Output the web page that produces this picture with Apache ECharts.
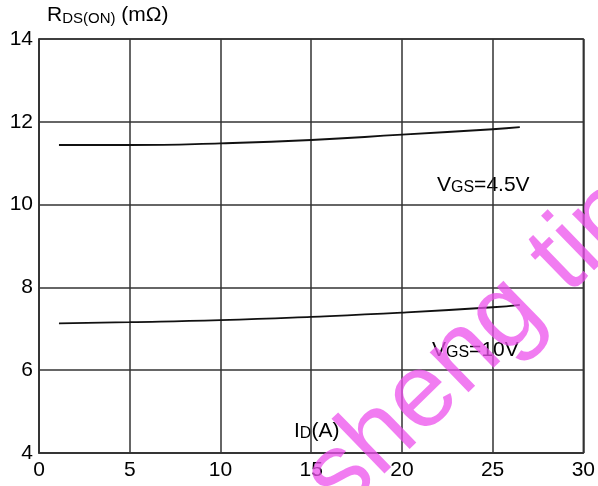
<!DOCTYPE html>
<html><head><meta charset="utf-8">
<script src="https://cdn.jsdelivr.net/npm/echarts@6/dist/echarts.min.js"></script>
<style>html,body{margin:0;padding:0;background:#fff}#c{width:598px;height:486px}</style>
</head><body><div id="c"></div>
<script>
const xTicks = [0, 5, 10, 15, 20, 25, 30];
const yTicks = [4, 6, 8, 10, 12, 14];
const idA = [1.1, 5, 10, 15, 20, 25, 26.5];
const vgs45 = [11.44, 11.44, 11.48, 11.56, 11.69, 11.82, 11.87];
const vgs10 = [7.13, 7.16, 7.21, 7.29, 7.39, 7.52, 7.58];
const seriesNames = ['VGS=4.5V', 'VGS=10V'];

const chart = echarts.init(document.getElementById('c'), null, {renderer: 'canvas'});
const font = '"Liberation Sans", Arial, sans-serif';
const gridLine = {show: true, lineStyle: {color: '#333', width: 1.5}};
const main = {fontSize: 21, fontFamily: font, fill: '#000', verticalAlign: 'bottom'};
const sub = {fontSize: 16, fontFamily: font, fill: '#000', verticalAlign: 'bottom'};
chart.setOption({
  animation: false,
  backgroundColor: '#fff',
  grid: {left: 39, right: 9, top: 39, bottom: 33, show: true, borderColor: '#333', borderWidth: 1.5},
  xAxis: {
    type: 'value', min: xTicks[0], max: xTicks[xTicks.length - 1], interval: 5,
    axisLine: {show: true, lineStyle: {color: '#333', width: 1.5}},
    axisTick: {show: false},
    splitLine: gridLine,
    axisLabel: {color: '#000', fontSize: 21, fontFamily: font, margin: 7}
  },
  yAxis: {
    type: 'value', min: yTicks[0], max: yTicks[yTicks.length - 1], interval: 2,
    axisLine: {show: true, lineStyle: {color: '#333', width: 1.5}},
    axisTick: {show: false},
    splitLine: gridLine,
    axisLabel: {color: '#000', fontSize: 21, fontFamily: font, margin: 6}
  },
  series: [
    {name: seriesNames[0], type: 'line', smooth: true, showSymbol: false,
     data: idA.map((x, i) => [x, vgs45[i]]), lineStyle: {color: '#111', width: 1.8}},
    {name: seriesNames[1], type: 'line', smooth: true, showSymbol: false,
     data: idA.map((x, i) => [x, vgs10[i]]), lineStyle: {color: '#111', width: 1.8}}
  ],
  graphic: [
    {type: 'text', left: 47, top: 5, style: {
      text: '{a|R}{b|DS(ON)}{a| (mΩ)}',
      rich: {a: {fontSize: 21, fontFamily: font, fill: '#000', verticalAlign: 'bottom'}, b: {fontSize: 15, fontFamily: font, fill: '#000', verticalAlign: 'bottom'}}
    }},
    {type: 'text', left: 437, top: 175, style: {text: '{a|V}{b|GS}{a|=4.5V}', rich: {a: main, b: sub}}},
    {type: 'text', left: 432, top: 340, style: {text: '{a|V}{b|GS}{a|=10V}', rich: {a: main, b: sub}}},
    {type: 'text', left: 294, top: 421, style: {text: '{a|I}{b|D}{a|(A)}', rich: {a: main, b: sub}}},
    {type: 'text', x: 358, y: 532, rotation: 0.77, z: 100, style: {
      text: 'sheng tiny', fontSize: 105, fontFamily: font, fill: 'rgba(236,80,236,0.75)', verticalAlign: 'bottom'
    }}
  ]
});
</script></body></html>
